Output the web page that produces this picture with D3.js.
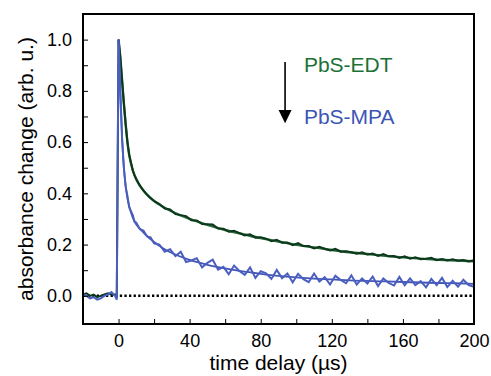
<!DOCTYPE html>
<html>
<head>
<meta charset="utf-8">
<script src="https://cdn.jsdelivr.net/npm/d3@7"></script>
<style>
  body { margin: 0; background: #fff; }
  svg { display: block; font-family: "Liberation Sans", Arial, sans-serif; }
</style>
</head>
<body>
<svg width="491" height="376"></svg>
<script>
// measured traces (time in µs, absorbance normalised)
const times = [-20,-18,-16,-14,-12,-10,-8,-6,-4,-2,-1,
    0,1,2,3,4,5,6,7,8,9,10,12,14,16,18,20,
    23,26,29,32,35,38,41,44,47,50,53,56,59,62,65,68,71,74,77,80,
    83,86,89,92,95,98,101,104,107,110,113,116,119,122,125,128,131,134,137,140,
    143,146,149,152,155,158,161,164,167,170,173,176,179,182,185,188,191,194,197,200]

const edtData = [0.005,0.01,0,0.005,-0.005,0,0.005,0.01,0.005,0.005,0,
    1.0,0.93,0.84,0.75,0.67,0.6,0.55,0.52,0.49,0.47,0.455,0.43,0.412,0.395,0.382,0.37,
    0.358,0.341,0.337,0.319,0.315,0.311,0.295,0.294,0.280,0.279,0.278,0.263,0.262,0.250,0.254,0.245,0.236,0.240,0.227,0.229,
    0.223,0.213,0.219,0.207,0.208,0.198,0.206,0.194,0.194,0.185,0.191,0.184,0.177,0.183,0.172,0.174,0.170,0.164,0.170,0.161,
    0.165,0.156,0.163,0.154,0.155,0.148,0.154,0.145,0.150,0.143,0.145,0.148,0.139,0.144,0.138,0.143,0.137,0.140,0.134,0.139]

const mpaData = [0.005,0,-0.01,-0.005,-0.015,-0.01,0,0.005,0.015,0,-0.015,
    1.0,0.79,0.61,0.5,0.425,0.39,0.345,0.33,0.315,0.29,0.285,0.26,0.255,0.232,0.228,0.205,
    0.200,0.172,0.182,0.155,0.172,0.132,0.138,0.147,0.111,0.129,0.141,0.102,0.113,0.084,0.118,0.097,0.082,0.111,0.070,0.096,
    0.088,0.066,0.101,0.069,0.087,0.053,0.086,0.065,0.053,0.087,0.056,0.073,0.044,0.078,0.062,0.049,0.080,0.044,0.068,0.048,
    0.075,0.038,0.068,0.050,0.040,0.074,0.041,0.068,0.042,0.057,0.033,0.066,0.042,0.070,0.034,0.059,0.036,0.063,0.042,0.035]

// fitted decays
const fitTimes = [0,1,2,3,4,5,6,8,10,12,15,20,25,30,40,50,60,70,80,90,100,110,120,130,140,150,160,170,180,190,200]
const edtFit = [1.0,0.93,0.84,0.75,0.67,0.6,0.55,0.49,0.455,0.43,0.402,0.37,0.348,0.329,0.300,0.277,0.257,0.241,0.225,0.212,0.199,0.189,0.179,0.170,0.163,0.156,0.150,0.145,0.141,0.138,0.135]
const mpaFit = [1.0,0.8,0.62,0.5,0.43,0.38,0.35,0.305,0.278,0.262,0.24,0.21,0.186,0.167,0.140,0.121,0.107,0.095,0.086,0.078,0.072,0.067,0.064,0.060,0.058,0.056,0.054,0.052,0.050,0.049,0.047]

const xTicks = [0,20,40,60,80,100,120,140,160,180,200]
const yTicks = [0,0.1,0.2,0.3,0.4,0.5,0.6,0.7,0.8,0.9,1.0]

const svg = d3.select('svg')
const margin = {top: 14, right: 17, bottom: 52, left: 83}
const width = 491 - margin.left - margin.right
const height = 376 - margin.top - margin.bottom
const g = svg.append('g').attr('transform', `translate(${margin.left},${margin.top})`)

const xscl = d3.scaleLinear().domain([-20, 200]).range([0, width])
const yscl = d3.scaleLinear().domain([-0.11, 1.1]).range([height, 0])

// zero line
g.append('line')
    .attr('x1', 0).attr('x2', width)
    .attr('y1', yscl(0)).attr('y2', yscl(0))
    .attr('stroke', '#000')
    .attr('stroke-width', 2.6)
    .style('stroke-dasharray', '2.3,2.3')

const line = d3.line()
    .x(d => xscl(d[0]))
    .y(d => yscl(d[1]))

const fitLine = d3.line()
    .x(d => xscl(d[0]))
    .y(d => yscl(d[1]))
    .curve(d3.curveMonotoneX)

const zip = (a, b) => a.map((v, i) => [v, b[i]])

g.append('path').datum(zip(fitTimes, edtFit))
    .attr('d', fitLine).attr('fill', 'none')
    .attr('stroke', '#2b6a3c').attr('stroke-width', 2.4)
g.append('path').datum(zip(times, edtData))
    .attr('d', line).attr('fill', 'none')
    .attr('stroke', '#0c381b').attr('stroke-width', 2)

g.append('path').datum(zip(fitTimes, mpaFit))
    .attr('d', fitLine).attr('fill', 'none')
    .attr('stroke', '#4356b6').attr('stroke-width', 1.8)
g.append('path').datum(zip(times, mpaData))
    .attr('d', line).attr('fill', 'none')
    .attr('stroke', '#4a5ec0').attr('stroke-width', 2)

// axes, ticks point inward
const xAxis = d3.axisBottom(xscl).tickValues(xTicks).tickSizeInner(-5).tickSizeOuter(0)
    .tickFormat(d => d % 40 === 0 ? d : '')
const xg = g.append('g').attr('transform', `translate(0,${height})`).call(xAxis)
xg.selectAll('text').attr('y', 23).attr('dy', 0)

const yAxis = d3.axisLeft(yscl).tickValues(yTicks).tickSizeInner(-5).tickSizeOuter(0)
    .tickFormat(d => Math.round(d * 10) % 2 === 0 ? d3.format('.1f')(d) : '')
const yg = g.append('g').call(yAxis)
yg.selectAll('text').attr('x', -11)

g.selectAll('.domain').remove()
g.selectAll('.tick line').attr('stroke', '#000').attr('stroke-width', 1)
g.selectAll('.tick text')
    .style('font-size', '18px')
    .style('font-family', '"Liberation Sans", Arial, sans-serif')
    .attr('fill', '#000')

// frame
g.append('rect')
    .attr('width', width).attr('height', height)
    .attr('fill', 'none').attr('stroke', '#000').attr('stroke-width', 2)

// titles
svg.append('text')
    .attr('x', margin.left + width / 2).attr('y', 370)
    .attr('text-anchor', 'middle')
    .style('font-size', '21px')
    .text('time delay (µs)')

svg.append('text')
    .attr('transform', `translate(33,${margin.top + height / 2}) rotate(-90)`)
    .attr('text-anchor', 'middle')
    .style('font-size', '21px')
    .text('absorbance change (arb. u.)')

// legend with arrow
g.append('line')
    .attr('x1', xscl(93.7)).attr('x2', xscl(93.7))
    .attr('y1', yscl(0.913)).attr('y2', yscl(0.72))
    .attr('stroke', '#000').attr('stroke-width', 1.6)
g.append('path')
    .attr('d', `M${xscl(93.7) - 6.5},${yscl(0.725)} L${xscl(93.7) + 6.5},${yscl(0.725)} L${xscl(93.7)},${yscl(0.674)} Z`)
    .attr('fill', '#000')

g.append('text')
    .attr('x', xscl(104.3)).attr('y', yscl(0.873))
    .style('font-size', '21px')
    .attr('fill', '#1b7136')
    .text('PbS-EDT')
g.append('text')
    .attr('x', xscl(104.3)).attr('y', yscl(0.672))
    .style('font-size', '21px')
    .attr('fill', '#3d55b5')
    .text('PbS-MPA')
</script>
</body>
</html>
